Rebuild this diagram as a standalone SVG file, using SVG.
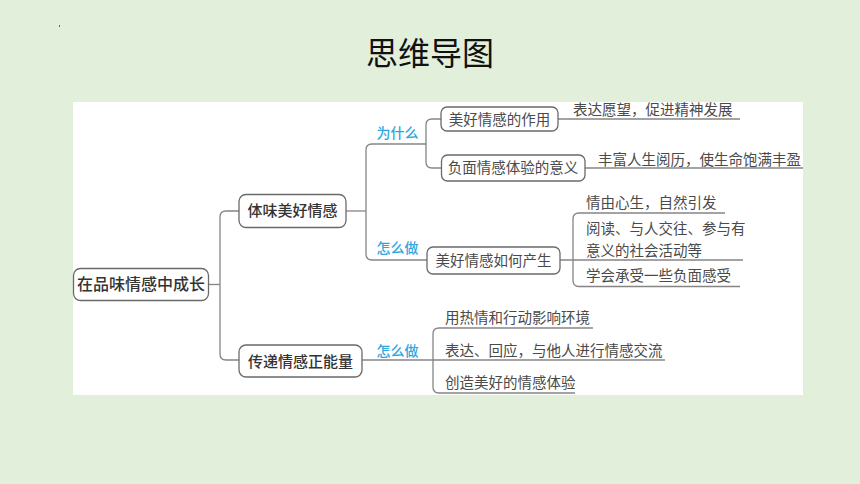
<svg xmlns="http://www.w3.org/2000/svg" width="860" height="484" viewBox="0 0 860 484">
<style>
.bg{fill:#e2efda}
.panel{fill:#ffffff}
.box{fill:#ffffff;stroke:#6a6a6a;stroke-width:1.3}
.ln{fill:none;stroke:#858585;stroke-width:1.3}
.t1{font-family:"Noto Sans CJK SC","Noto Sans",sans-serif;font-size:16px;fill:#333;font-weight:500}
.t2{font-family:"Noto Sans CJK SC","Noto Sans",sans-serif;font-size:15px;fill:#333;font-weight:500}
.t3{font-family:"Noto Sans CJK SC","Noto Sans",sans-serif;font-size:14.5px;fill:#4a4a4a}
.lb{font-family:"Noto Sans CJK SC","Noto Sans",sans-serif;font-size:14px;fill:#2ea7df;font-weight:500}
.title{font-family:"Noto Sans CJK SC","Noto Sans",sans-serif;font-size:32px;fill:#111}
</style>
<rect class="bg" x="0" y="0" width="860" height="484"/>
<rect x="59" y="25" width="1" height="2" fill="#666"/>
<text class="title" x="430" y="65" text-anchor="middle">思维导图</text>
<rect class="panel" x="73" y="102" width="730" height="293"/>

<g id="connectors">
<path class="ln" d="M208.5,284.5 H220"/>
<path class="ln" d="M239,211 H226 Q220,211 220,217 V354 Q220,360 226,360 H239"/>
<path class="ln" d="M346,211 H366"/>
<path class="ln" d="M426,144 H372 Q366,144 366,150 V254 Q366,260 372,260 H427"/>
<path class="ln" d="M441,119 H432 Q426,119 426,125 V162 Q426,168 432,168 H441"/>
<path class="ln" d="M558,119 H740"/>
<path class="ln" d="M585,168 H803"/>
<path class="ln" d="M560,260 H743"/>
<path class="ln" d="M725,213 H579 Q573,213 573,219 V280.5 Q573,286.5 579,286.5 H740"/>
<path class="ln" d="M362,360 H665"/>
<path class="ln" d="M593,328 H439 Q433,328 433,334 V387 Q433,393 439,393 H575"/>
</g>

<g id="root">
<rect class="box" x="73.5" y="268.5" width="135" height="32" rx="7"/>
<text class="t1" x="141" y="290" text-anchor="middle">在品味情感中成长</text>
</g>

<g id="n-tiwei">
<rect class="box" x="239" y="194.5" width="107" height="33" rx="7"/>
<text class="t2" x="292.5" y="216" text-anchor="middle">体味美好情感</text>
</g>

<g id="n-chuandi">
<rect class="box" x="239" y="345" width="123" height="32" rx="7"/>
<text class="t2" x="300.5" y="366.5" text-anchor="middle">传递情感正能量</text>
</g>

<g id="lb-weishenme"><text class="lb" x="376.5" y="137.5">为什么</text></g>
<g id="lb-zenmezuo1"><text class="lb" x="376.5" y="252.5">怎么做</text></g>
<g id="lb-zenmezuo2"><text class="lb" x="376.5" y="355.5">怎么做</text></g>

<g id="n-zuoyong">
<rect class="box" x="441" y="107" width="117" height="24" rx="6"/>
<text class="t3" x="499.5" y="124.5" text-anchor="middle">美好情感的作用</text>
</g>
<g id="n-yiyi">
<rect class="box" x="441.5" y="155" width="143.5" height="26" rx="6"/>
<text class="t3" x="513" y="173" text-anchor="middle">负面情感体验的意义</text>
</g>
<g id="n-chansheng">
<rect class="box" x="427" y="247" width="133" height="27" rx="6"/>
<text class="t3" x="493.5" y="265.5" text-anchor="middle">美好情感如何产生</text>
</g>

<g id="leaf-1"><text class="t3" x="573" y="114.5">表达愿望，促进精神发展</text></g>
<g id="leaf-2"><text class="t3" x="598" y="164.5">丰富人生阅历，使生命饱满丰盈</text></g>
<g id="leaf-3"><text class="t3" x="586" y="208">情由心生，自然引发</text></g>
<g id="leaf-4">
<text class="t3" x="586" y="234">阅读、与人交往、参与有</text>
<text class="t3" x="586" y="255.5">意义的社会活动等</text>
</g>
<g id="leaf-5"><text class="t3" x="586" y="280.5">学会承受一些负面感受</text></g>
<g id="leaf-6"><text class="t3" x="445" y="322.5">用热情和行动影响环境</text></g>
<g id="leaf-7"><text class="t3" x="445" y="355.5">表达、回应，与他人进行情感交流</text></g>
<g id="leaf-8"><text class="t3" x="445" y="387.5">创造美好的情感体验</text></g>
</svg>
